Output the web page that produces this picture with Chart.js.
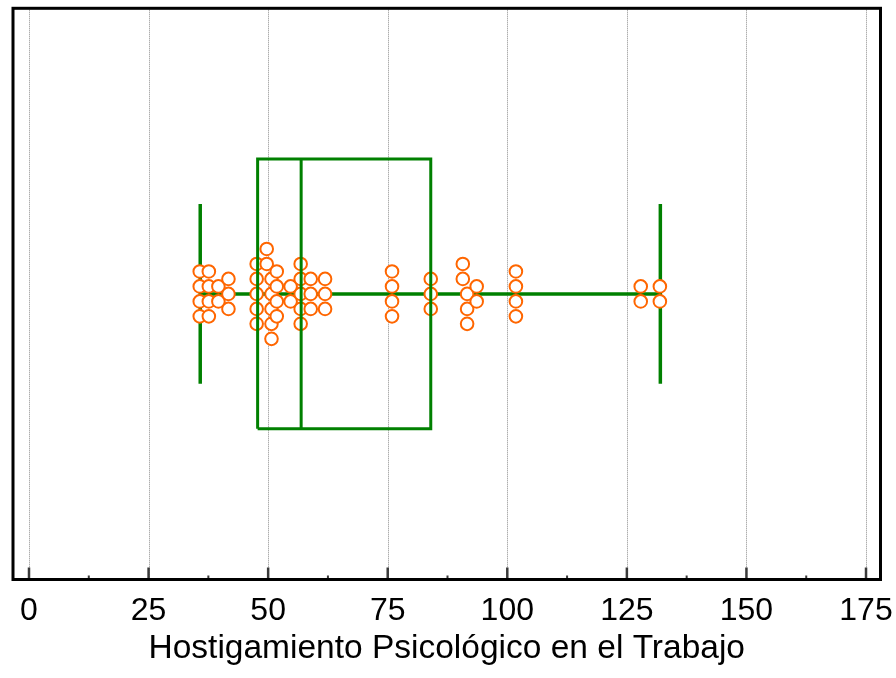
<!DOCTYPE html>
<html>
<head>
<meta charset="utf-8">
<script src="https://cdn.jsdelivr.net/npm/chart.js@4"></script>
<style>
    html, body { margin: 0; padding: 0; background: #fff; }
    canvas { display: block; }
</style>
</head>
<body>
<canvas id="chart" width="896" height="678"></canvas>
<script>
// Puntuaciones (eje x) de cada columna de puntos
const scoreColumns = [35.7, 37.6, 39.6, 41.7, 47.6, 49.7, 50.7, 51.8, 54.7, 56.8,
                      58.9, 61.9, 75.9, 84.0, 90.7, 91.6, 93.6, 101.8, 127.9, 131.9];
// Desplazamiento vertical (en medias filas) de cada punto dentro de su columna
const columnRows = [
    [3, 1, -1, -3], [3, 1, -1, -3], [1, -1], [2, 0, -2],
    [4, 2, 0, -2, -4], [6, 4], [2, 0, -2, -4, -6], [3, 1, -1, -3],
    [1, -1], [4, 2, 0, -2, -4], [2, 0, -2], [2, 0, -2],
    [3, 1, -1, -3], [2, 0, -2], [4, 2], [0, -2, -4],
    [1, -1], [3, 1, -1, -3], [1, -1], [1, -1]
];
// Resumen del diagrama de caja: mínimo, Q1, mediana, Q3, máximo
const boxStats = [35.8, 47.8, 56.9, 84.0, 132.0];
// Marcas del eje x
const majorTicks = [0, 25, 50, 75, 100, 125, 150, 175];
const minorTicks = [12.5, 37.5, 62.5, 87.5, 112.5, 137.5, 162.5];
const xTitle = 'Hostigamiento Psicológico en el Trabajo';

const green = '#008000';
const orange = '#ff6600';
const boxHalf = 18;   // media altura de la caja (unidades del eje y)
const capHalf = 12;   // media altura de los extremos

// Puntos individuales
const points = [];
scoreColumns.forEach((score, i) => {
    columnRows[i].forEach(row => points.push({ x: score, y: row }));
});

const [vMin, q1, median, q3, vMax] = boxStats;

function lineSet(data, width, order) {
    return {
        type: 'scatter',
        data: data,
        showLine: true,
        borderColor: green,
        borderWidth: width,
        pointRadius: 0,
        fill: false,
        order: order
    };
}

// Rejilla punteada, marcas interiores del eje y marco del gráfico
const framePlugin = {
    id: 'frame',
    beforeDatasetsDraw(chart) {
        const { ctx, chartArea: a, scales: { x } } = chart;
        ctx.save();
        ctx.strokeStyle = '#8c8c8c';
        ctx.lineWidth = 1;
        ctx.setLineDash([1, 1]);
        majorTicks.forEach(v => {
            const px = Math.round(x.getPixelForValue(v)) + 0.5;
            ctx.beginPath();
            ctx.moveTo(px, a.top);
            ctx.lineTo(px, a.bottom);
            ctx.stroke();
        });
        ctx.restore();
    },
    afterDraw(chart) {
        const { ctx, chartArea: a, scales: { x } } = chart;
        ctx.save();
        ctx.strokeStyle = '#3a3a3a';
        ctx.lineWidth = 2.5;
        majorTicks.forEach(v => {
            const px = x.getPixelForValue(v);
            ctx.beginPath();
            ctx.moveTo(px, a.bottom);
            ctx.lineTo(px, a.bottom - 12);
            ctx.stroke();
        });
        ctx.lineWidth = 2;
        minorTicks.forEach(v => {
            const px = x.getPixelForValue(v);
            ctx.beginPath();
            ctx.moveTo(px, a.bottom);
            ctx.lineTo(px, a.bottom - 4);
            ctx.stroke();
        });
        ctx.strokeStyle = '#000';
        ctx.lineWidth = 3;
        ctx.strokeRect(a.left, a.top, a.right - a.left, a.bottom - a.top);
        ctx.restore();
    }
};

new Chart(document.getElementById('chart').getContext('2d'), {
    type: 'scatter',
    data: {
        datasets: [
            // caja
            lineSet([{ x: q1, y: -boxHalf }, { x: q3, y: -boxHalf }, { x: q3, y: boxHalf },
                     { x: q1, y: boxHalf }, { x: q1, y: -boxHalf }], 3, 0),
            // mediana
            lineSet([{ x: median, y: -boxHalf }, { x: median, y: boxHalf }], 3, 0),
            // puntos
            {
                data: points,
                pointRadius: 6.3,
                pointBorderWidth: 2,
                pointBorderColor: orange,
                pointBackgroundColor: '#fff',
                order: 1
            },
            // bigotes
            lineSet([{ x: vMin, y: 0 }, { x: vMax, y: 0 }], 3.5, 2),
            lineSet([{ x: vMin, y: -capHalf }, { x: vMin, y: capHalf }], 3.5, 2),
            lineSet([{ x: vMax, y: -capHalf }, { x: vMax, y: capHalf }], 3.5, 2)
        ]
    },
    options: {
        responsive: false,
        animation: false,
        devicePixelRatio: 1,
        layout: { padding: { left: 13, top: 7, right: 15.5, bottom: 0 } },
        plugins: {
            legend: { display: false },
            tooltip: { enabled: false }
        },
        scales: {
            x: {
                type: 'linear',
                min: -3.345,
                max: 178.03,
                afterBuildTicks: axis => { axis.ticks = majorTicks.map(v => ({ value: v })); },
                afterFit: axis => {
                    axis.paddingLeft = 0;
                    axis.paddingRight = 0;
                    axis.height = 98.5;
                },
                grid: { display: false },
                border: { display: false },
                ticks: {
                    color: '#000',
                    padding: 4,
                    autoSkip: false,
                    maxRotation: 0,
                    font: { family: 'Liberation Sans, Arial, sans-serif', size: 32 }
                },
                title: {
                    display: true,
                    text: xTitle,
                    color: '#000',
                    padding: { top: 0, bottom: 9 },
                    font: { family: 'Liberation Sans, Arial, sans-serif', size: 33.5 }
                }
            },
            y: {
                type: 'linear',
                display: false,
                min: -38.13,
                max: 38.13
            }
        }
    },
    plugins: [framePlugin]
});
</script>
</body>
</html>
